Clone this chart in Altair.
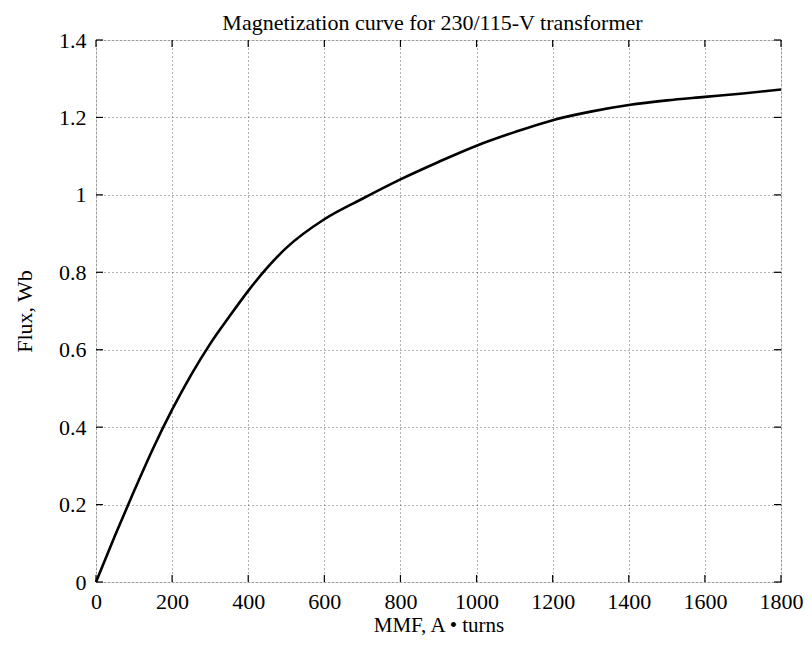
import altair as alt
import pandas as pd

# Data
mmf = [0, 50, 100, 150, 200, 250, 300, 350, 400, 450, 500, 600, 700, 800, 900,
       1000, 1100, 1200, 1300, 1400, 1500, 1600, 1700, 1800]
flux = [0, 0.12, 0.235, 0.345, 0.445, 0.535, 0.615, 0.685, 0.752, 0.812, 0.863, 0.937, 0.99, 1.04, 1.085,
        1.127, 1.162, 1.193, 1.215, 1.232, 1.244, 1.253, 1.262, 1.272]
x_ticks = [0, 200, 400, 600, 800, 1000, 1200, 1400, 1600, 1800]
y_ticks = [0, 0.2, 0.4, 0.6, 0.8, 1.0, 1.2, 1.4]

W, H = 685, 542
FONT = "Liberation Serif"

df = pd.DataFrame({"mmf": mmf, "flux": flux})
xt = pd.DataFrame({"v": x_ticks})
yt = pd.DataFrame({"v": y_ticks})

xs = alt.Scale(domain=[0, 1800], nice=False)
ys = alt.Scale(domain=[0, 1.4], nice=False)

common = dict(grid=True, gridColor="black", gridDash=[1, 3], gridOpacity=0.6, gridWidth=1,
              ticks=False, domain=False, labelFont=FONT, titleFont=FONT,
              labelColor="black", titleColor="black", titleFontWeight="normal",
              labelFontSize=22, labelFlush=False, labelOverlap=False)

line = alt.Chart(df).mark_line(color="black", strokeWidth=2.6, interpolate="monotone").encode(
    x=alt.X("mmf:Q", scale=xs, axis=alt.Axis(
        values=x_ticks, format="d", title="MMF, A • turns", titleFontSize=21,
        labelPadding=9, titlePadding=2, **common)),
    y=alt.Y("flux:Q", scale=ys, axis=alt.Axis(
        values=y_ticks, format="~g", title="Flux, Wb", titleFontSize=22,
        labelPadding=10, titlePadding=22, **common)),
)

tick_len = 7
bx = alt.Chart(xt).mark_rule(color="black", strokeWidth=1.2).encode(
    x=alt.X("v:Q", scale=xs), y=alt.value(H), y2=alt.value(H - tick_len))
tx = alt.Chart(xt).mark_rule(color="black", strokeWidth=1.2).encode(
    x=alt.X("v:Q", scale=xs), y=alt.value(0), y2=alt.value(tick_len))
ly = alt.Chart(yt).mark_rule(color="black", strokeWidth=1.2).encode(
    y=alt.Y("v:Q", scale=ys), x=alt.value(0), x2=alt.value(tick_len))
ry = alt.Chart(yt).mark_rule(color="black", strokeWidth=1.2).encode(
    y=alt.Y("v:Q", scale=ys), x=alt.value(W), x2=alt.value(W - tick_len))

chart = alt.layer(line, bx, tx, ly, ry).properties(
    width=W, height=H,
    title=alt.TitleParams("Magnetization curve for 230/115-V transformer",
                          font=FONT, fontSize=22, fontWeight="normal", color="black",
                          anchor="middle", offset=-6, dx=-6),
    autosize=alt.AutoSizeParams(type="none"),
    padding={"left": 88, "top": 32, "right": 23, "bottom": 55},
).configure_view(stroke="black", strokeWidth=1.5).configure(background="white")

chart.save("out.html", embed_options={"renderer": "svg", "actions": False})
